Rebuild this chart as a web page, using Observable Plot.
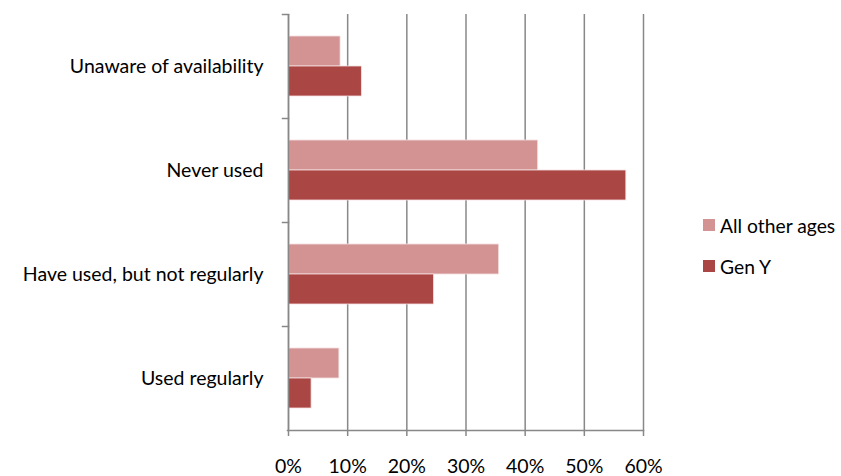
<!DOCTYPE html>
<html>
<head>
<meta charset="utf-8">
<script src="https://cdn.jsdelivr.net/npm/d3@7"></script>
<script src="https://cdn.jsdelivr.net/npm/@observablehq/plot@0.6"></script>
<style>
  body { margin: 0; background: #fff; font-family: Lato, "Open Sans", sans-serif; }
  #wrap { position: relative; width: 841px; height: 476px; }
  #legend { position: absolute; left: 703px; top: 212px; font-size: 19.3px; color: #000; }
  .item { display: flex; align-items: center; height: 26px; margin-bottom: 15px; }
  .sw { width: 12px; height: 12px; margin-right: 5px; }
</style>
</head>
<body>
<div id="wrap"></div>
<script>
const categories = ["Unaware of availability", "Never used", "Have used, but not regularly", "Used regularly"];
const series = ["All other ages", "Gen Y"];
const allOther = [8.8, 42.2, 35.6, 8.6];
const genY = [12.4, 57.1, 24.6, 3.9];
const xTicks = [0, 10, 20, 30, 40, 50, 60];
const colors = ["#D39393", "#AA4744"];

const data = [];
categories.forEach((c, i) => {
  data.push({category: c, series: series[0], value: allOther[i]});
  data.push({category: c, series: series[1], value: genY[i]});
});

const grid = "#888888";
const chart = Plot.plot({
  width: 841,
  height: 476,
  marginLeft: 288,
  marginRight: 198,
  marginTop: 13,
  marginBottom: 46,
  style: {fontFamily: "Lato, 'Open Sans', sans-serif", fontSize: "19.5px", color: "#000", background: "#fff"},
  x: {domain: [0, 60], axis: null, label: null},
  fy: {domain: categories, padding: 0, axis: null},
  y: {domain: series, paddingInner: 0, paddingOuter: 0.7333, axis: null},
  color: {domain: series, range: colors},
  marks: [
    Plot.gridX(xTicks, {stroke: grid, strokeOpacity: 1, strokeWidth: 1.5}),
    Plot.barX(data, {x: "value", y: "series", fy: "category", fill: "series", stroke: "#f4e0e0", strokeWidth: 0.8}),
    Plot.ruleX([0], {stroke: grid, strokeWidth: 1.5}),
    Plot.frame({anchor: "top", stroke: grid, strokeWidth: 1.5, insetLeft: -6, insetRight: 355}),
    Plot.frame({anchor: "bottom", facetAnchor: "bottom", stroke: grid, strokeWidth: 1.5, insetLeft: -1}),
    Plot.axisX({ticks: xTicks, tickFormat: d => d + "%", label: null, tickSize: 6, tickPadding: 23, stroke: grid, strokeWidth: 1.5, fontSize: 19.5, fill: "#000"}),
    Plot.text(categories, {fy: d => d, text: d => d, frameAnchor: "left", dx: -25, textAnchor: "end", fill: "#000", fontSize: 19.5})
  ]
});

const wrap = document.getElementById("wrap");
wrap.appendChild(chart);
const legend = document.createElement("div");
legend.id = "legend";
series.forEach((s, i) => {
  const it = document.createElement("div");
  it.className = "item";
  it.innerHTML = `<span class="sw" style="background:${colors[i]}"></span><span>${s}</span>`;
  legend.appendChild(it);
});
wrap.appendChild(legend);
</script>
</body>
</html>
